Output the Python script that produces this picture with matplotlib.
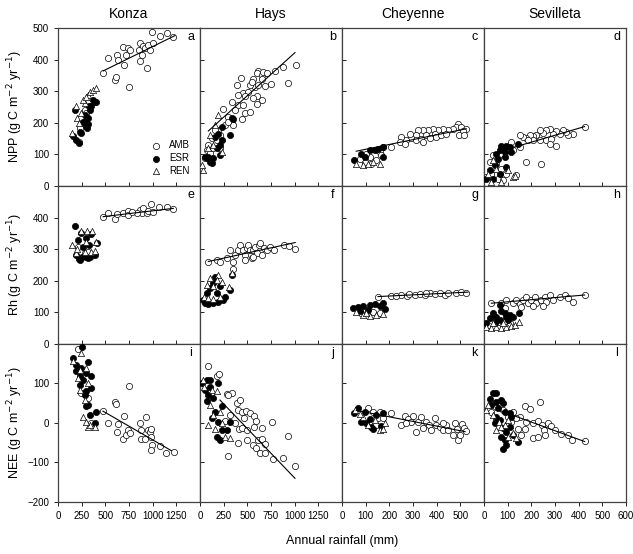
import matplotlib
matplotlib.use("Agg")
import matplotlib.pyplot as plt
import numpy as np

plt.rcParams["font.family"] = ["Liberation Sans", "DejaVu Sans"]

sites = ["Konza", "Hays", "Cheyenne", "Sevilleta"]
row_labels = ["NPP (g C m$^{-2}$ yr$^{-1}$)", "Rh (g C m$^{-2}$ yr$^{-1}$)",
              "NEE (g C m$^{-2}$ yr$^{-1}$)"]
panel_letters = ["a", "b", "c", "d", "e", "f", "g", "h", "i", "j", "k", "l"]

# ---- NPP ----
a_amb = [(477, 358), (530, 405), (607, 336), (614, 345), (628, 413), (635, 400), (688, 440),
         (699, 384), (723, 413), (735, 436), (752, 313), (759, 429), (858, 431), (865, 396),
         (865, 452), (883, 415), (900, 442), (918, 437), (935, 373), (953, 447), (971, 429),
         (988, 487), (999, 452), (1077, 474), (1154, 484), (1218, 471),
         (222, 140), (229, 183), (282, 241), (300, 230)]
a_esr = [(177, 239), (159, 159), (194, 146), (219, 135), (229, 172), (247, 169), (265, 204),
         (282, 225), (300, 190), (307, 183), (318, 214), (328, 252), (342, 241), (353, 254),
         (371, 271), (388, 267), (406, 267), (293, 209), (318, 197)]
a_ren = [(152, 167), (187, 254), (201, 214), (222, 198), (247, 230), (282, 262), (318, 288),
         (335, 296), (371, 304), (406, 310), (265, 273), (293, 283)]
a_fit = ([477, 1236], [364, 476])

b_amb = [(616, 365), (598, 356), (651, 351), (669, 361), (704, 356), (792, 363), (880, 377),
         (1010, 382), (933, 327), (750, 324), (686, 316), (651, 340), (563, 340), (581, 314),
         (616, 321), (429, 342), (387, 319), (528, 319), (546, 329), (458, 293), (510, 298),
         (405, 287), (475, 285), (598, 285), (651, 272), (563, 277), (598, 261), (334, 266),
         (405, 256), (458, 256), (475, 230), (528, 233), (246, 245), (370, 240), (440, 212),
         (299, 219), (334, 203), (264, 193), (194, 177), (211, 161), (123, 151), (176, 145),
         (88, 130), (70, 114), (106, 103), (141, 119), (53, 87), (211, 119), (352, 193),
         (299, 203), (158, 177)]
b_esr = [(334, 214), (352, 211), (317, 161), (229, 187), (194, 166), (229, 145), (158, 156),
         (211, 130), (176, 119), (70, 87), (106, 77), (123, 72), (141, 87), (211, 98),
         (88, 93), (53, 93)]
b_ren = [(194, 224), (158, 193), (106, 161), (35, 51), (18, 66), (141, 130), (229, 108),
         (88, 119)]
b_fit = ([88, 1003], [174, 422])

c_amb = [(490, 197), (483, 186), (504, 188), (525, 181), (511, 174), (494, 160), (515, 160),
         (469, 181), (448, 176), (427, 181), (406, 176), (384, 181), (391, 165), (363, 176),
         (342, 176), (321, 176), (356, 160), (370, 153), (398, 155), (420, 160), (441, 165),
         (314, 160), (293, 153), (272, 144), (251, 155), (244, 139), (265, 134), (314, 144),
         (335, 150), (342, 139), (286, 165), (208, 123), (159, 107), (173, 123), (117, 92),
         (145, 83), (96, 76), (124, 71), (75, 86), (166, 97), (103, 102)]
c_esr = [(51, 81), (82, 102), (117, 113), (138, 113), (152, 118), (173, 123), (96, 92),
         (173, 92)]
c_ren = [(61, 71), (89, 65), (131, 76), (159, 71), (110, 71)]
c_fit = ([60, 525], [110, 181])

d_amb = [(425, 188), (376, 165), (355, 160), (348, 171), (334, 176), (320, 165), (306, 174),
         (291, 165), (277, 181), (263, 178), (249, 167), (235, 176), (221, 160), (207, 157),
         (193, 160), (179, 153), (165, 155), (151, 160), (207, 144), (235, 146), (263, 144),
         (284, 150), (306, 128), (277, 134), (242, 71), (179, 76), (151, 123), (123, 113),
         (115, 139), (94, 123), (66, 102), (38, 97), (24, 76), (52, 71), (73, 55), (94, 39),
         (10, 28), (31, 39), (59, 23), (80, 18), (137, 34), (186, 146)]
d_esr = [(73, 128), (80, 117), (87, 107), (66, 113), (94, 128), (108, 123), (144, 132),
         (87, 92), (59, 86), (45, 65), (24, 49), (10, 23), (38, 23), (66, 39), (94, 60),
         (115, 107), (52, 102)]
d_ren = [(38, 81), (52, 55), (17, 39), (31, 13), (73, 13), (122, 28), (130, 31), (101, 49)]
d_fit = ([60, 425], [108, 188])

# ---- Rh ----
e_amb = [(477, 401), (530, 416), (600, 395), (625, 410), (688, 416), (735, 422), (741, 408),
         (865, 424), (883, 414), (900, 429), (935, 414), (953, 422), (981, 443), (1006, 419),
         (1070, 435), (1147, 435), (1218, 426), (830, 416), (777, 419),
         (212, 308), (282, 287), (318, 292)]
e_esr = [(177, 373), (222, 268), (236, 265), (258, 274), (293, 276), (318, 271), (342, 276),
         (388, 282), (194, 280), (247, 350), (353, 348), (300, 334), (413, 319), (212, 329),
         (265, 308), (328, 313)]
e_ren = [(152, 313), (247, 356), (307, 359), (363, 356), (194, 287), (282, 292), (353, 292),
         (388, 295), (406, 324), (201, 300), (300, 324)]
e_fit = ([477, 1218], [403, 429])

f_amb = [(88, 261), (176, 266), (212, 261), (282, 271), (318, 297), (353, 261), (370, 282),
         (406, 297), (424, 313), (459, 297), (476, 282), (494, 303), (512, 313), (530, 297),
         (547, 271), (565, 297), (582, 308), (600, 287), (618, 313), (635, 319), (653, 282),
         (671, 303), (706, 297), (741, 308), (777, 297), (883, 313), (935, 310), (1006, 301),
         (353, 236), (476, 266), (565, 276)]
f_esr = [(35, 139), (53, 129), (88, 126), (141, 129), (194, 134), (247, 139), (264, 150),
         (318, 171), (335, 218), (159, 213), (106, 176), (176, 161), (212, 182), (141, 192),
         (70, 161)]
f_ren = [(106, 208), (194, 218), (335, 226), (141, 182), (176, 203), (229, 197), (42, 150),
         (88, 145), (141, 141), (212, 148), (310, 179), (70, 187)]
f_fit = ([88, 1006], [261, 321])

g_amb = [(152, 150), (208, 153), (251, 155), (275, 152), (307, 155), (328, 158), (349, 155),
         (370, 160), (391, 158), (413, 160), (434, 155), (448, 160), (483, 162), (504, 164),
         (525, 162), (230, 152), (282, 158), (356, 162), (82, 97), (131, 102), (159, 99)]
g_esr = [(46, 113), (66, 118), (89, 120), (117, 123), (138, 127), (173, 131), (159, 120),
         (180, 110), (75, 105), (110, 108)]
g_ren = [(61, 102), (89, 92), (117, 89), (145, 92), (173, 95), (103, 99)]
g_fit = ([152, 532], [150, 164])

h_amb = [(31, 129), (73, 129), (94, 139), (123, 129), (137, 139), (151, 127), (165, 139),
         (179, 150), (186, 129), (200, 139), (214, 150), (221, 129), (242, 139), (256, 150),
         (263, 134), (277, 155), (291, 139), (320, 150), (341, 155), (355, 145), (376, 134),
         (425, 155), (158, 118), (207, 120), (249, 120), (87, 113), (17, 60), (59, 71),
         (108, 65)]
h_esr = [(10, 65), (24, 81), (38, 97), (52, 86), (66, 124), (73, 103), (87, 97), (94, 86),
         (108, 92), (122, 86), (147, 97), (45, 65), (66, 76), (101, 76)]
h_ren = [(10, 55), (31, 50), (52, 55), (73, 50), (94, 53), (115, 57), (130, 60), (148, 68),
         (38, 65), (80, 65)]
h_fit = ([31, 425], [129, 155])

# ---- NEE ----
i_amb = [(475, 30), (528, -1), (598, 54), (609, 48), (634, -2), (627, -22), (687, -41),
         (697, 18), (722, -30), (739, -18), (746, 94), (757, -26), (862, -1), (873, -41),
         (880, -19), (915, -41), (933, 14), (950, -18), (968, -24), (985, -35), (992, -56),
         (985, -68), (1074, -58), (1144, -75), (1221, -73), (979, -14),
         (211, 187), (246, 76), (317, 62), (352, -1)]
i_esr = [(257, 192), (158, 164), (194, 147), (246, 138), (317, 155), (299, 126), (229, 118),
         (352, 88), (299, 80), (282, 71), (317, 46), (299, 42), (335, 20), (405, 28),
         (387, -1), (264, 110), (229, 97), (194, 131), (352, 118)]
i_ren = [(246, 177), (158, 156), (229, 135), (299, 139), (211, 114), (317, 101), (229, 84),
         (282, 59), (264, 16), (317, -11), (387, -11), (335, -5), (299, 3)]
i_fit = ([475, 1197], [30, -70])

j_amb = [(81, 143), (176, 119), (201, 124), (282, 73), (342, 75), (387, 50), (422, 58),
         (398, 33), (440, 29), (482, 31), (528, 26), (574, 18), (588, 4), (651, -13),
         (317, 20), (370, 1), (412, -16), (447, -13), (500, -19), (570, -11), (613, -43),
         (655, -41), (690, -53), (493, -43), (405, -51), (560, -55), (595, -64), (630, -77),
         (683, -77), (771, -91), (880, -89), (933, -33), (1003, -109), (757, 3), (468, 12),
         (299, 72), (264, 4), (292, -84)]
j_esr = [(18, 102), (70, 109), (106, 92), (53, 84), (88, 71), (141, 63), (194, 101),
         (229, 42), (159, 29), (123, 12), (194, 3), (229, -18), (176, -35), (211, -43),
         (317, 3), (282, -18), (106, 109), (70, 55)]
j_ren = [(35, 109), (46, 92), (123, 84), (176, 80), (106, 46), (141, 20), (211, 29),
         (229, -1), (264, -35), (317, -39), (159, -14), (88, -6)]
j_fit = ([211, 1003], [58, -140])

k_amb = [(208, 26), (251, -5), (265, 18), (279, 9), (300, 18), (314, -24), (321, 3),
         (335, 14), (342, -13), (356, 3), (368, -5), (377, -18), (391, 12), (398, -5),
         (413, -11), (427, -18), (438, -5), (448, -18), (476, 1), (486, -16), (490, -43),
         (500, -30), (508, -2), (514, -13), (525, -21), (469, -30), (427, 0), (293, 3),
         (272, -1), (131, 29), (152, 12), (173, 12), (110, 37), (159, 29), (145, -5)]
k_esr = [(49, 26), (68, 37), (82, 3), (96, 28), (117, 11), (131, -16), (145, 20),
         (166, -8), (173, 26), (124, -11), (103, -1)]
k_ren = [(54, 33), (89, 16), (110, -5), (138, 7), (159, -18), (180, -1), (173, -14),
         (75, 22)]
k_fit = ([60, 520], [32, -22])

l_amb = [(235, 54), (172, 44), (196, 35), (151, 14), (179, 3), (207, -1), (228, 6),
         (246, -5), (270, 1), (284, -7), (253, -19), (207, -37), (228, -35), (256, -31),
         (298, -18), (327, -27), (355, -31), (372, -43), (425, -45), (172, -15), (158, -31),
         (137, 12), (122, 29), (101, 16), (80, 33), (52, 8), (31, 29), (52, 41), (115, 3),
         (144, -15)]
l_esr = [(24, 60), (38, 75), (49, 75), (52, 54), (73, 58), (80, 50), (31, 46), (59, 37),
         (87, 29), (108, 26), (115, 16), (52, 16), (45, -1), (66, 8), (80, -13), (94, -22),
         (73, -35), (87, -43), (94, -56), (80, -67), (108, -10), (144, -47), (122, -30)]
l_ren = [(10, 33), (17, 46), (38, 20), (63, 3), (87, -5), (101, -35), (122, -26),
         (137, -39), (73, -9), (101, 8), (52, -17)]
l_fit = ([60, 425], [33, -47])

panels = [
    (a_amb, a_esr, a_ren, a_fit), (b_amb, b_esr, b_ren, b_fit),
    (c_amb, c_esr, c_ren, c_fit), (d_amb, d_esr, d_ren, d_fit),
    (e_amb, e_esr, e_ren, e_fit), (f_amb, f_esr, f_ren, f_fit),
    (g_amb, g_esr, g_ren, g_fit), (h_amb, h_esr, h_ren, h_fit),
    (i_amb, i_esr, i_ren, i_fit), (j_amb, j_esr, j_ren, j_fit),
    (k_amb, k_esr, k_ren, k_fit), (l_amb, l_esr, l_ren, l_fit),
]

xlims = [1500, 1500, 600, 600]
xticks = [[0, 250, 500, 750, 1000, 1250], [0, 250, 500, 750, 1000, 1250],
          [0, 100, 200, 300, 400, 500], [0, 100, 200, 300, 400, 500, 600]]
ylims = [(0, 500), (0, 500), (-200, 200)]
yticks = [[0, 100, 200, 300, 400, 500], [0, 100, 200, 300, 400], [-200, -100, 0, 100]]

fig = plt.figure(figsize=(6.33, 5.54), dpi=100)
axes = fig.subplots(3, 4, gridspec_kw=dict(wspace=0, hspace=0))
fig.subplots_adjust(left=0.0916, right=0.989, top=0.9495, bottom=0.0939)

ms = 20
for idx, (amb, esr, ren, fit) in enumerate(panels):
    r, c = divmod(idx, 4)
    ax = axes[r, c]
    amb = np.array(amb)
    esr = np.array(esr)
    ren = np.array(ren)
    ax.scatter(amb[:, 0], amb[:, 1], s=ms, marker="o", facecolors="white",
               edgecolors="black", linewidths=0.5, label="AMB", zorder=2)
    ax.scatter(esr[:, 0], esr[:, 1], s=ms, marker="o", facecolors="black",
               edgecolors="black", linewidths=0.5, label="ESR", zorder=3)
    ax.scatter(ren[:, 0], ren[:, 1], s=ms, marker="^", facecolors="white",
               edgecolors="black", linewidths=0.5, label="REN", zorder=3)
    ax.plot(fit[0], fit[1], color="black", lw=0.8, zorder=4)

    ax.set_xlim(0, xlims[c])
    ax.set_ylim(*ylims[r])
    ax.set_xticks(xticks[c])
    ax.set_yticks(yticks[r])
    ax.tick_params(labelsize=7, length=3, width=0.6, direction="in")
    if r < 2:
        ax.tick_params(labelbottom=False)
    else:
        ax.tick_params(axis="x", direction="out")
    if c > 0:
        ax.tick_params(labelleft=False)
    else:
        ax.tick_params(axis="y", direction="out")
    for sp in ax.spines.values():
        sp.set_color("0.25")
        sp.set_linewidth(0.9)

    ax.text(0.935, 0.94, panel_letters[idx], transform=ax.transAxes,
            ha="center", va="center", fontsize=9)
    if r == 0:
        ax.set_title(sites[c], fontsize=10, pad=7)

leg = axes[0, 0].legend(loc="lower right", bbox_to_anchor=(0.98, 0.02), frameon=False,
                        fontsize=7, handletextpad=0.4, labelspacing=0.3, borderpad=0.2)

row_y = [0.807, 0.5217, 0.2365]
for r in range(3):
    fig.text(0.024, row_y[r], row_labels[r], rotation=90, ha="center", va="center",
             fontsize=9)
fig.text(0.540, 0.0235, "Annual rainfall (mm)", ha="center", va="center", fontsize=9)

fig.savefig("out.png", dpi=100)
plt.close(fig)
